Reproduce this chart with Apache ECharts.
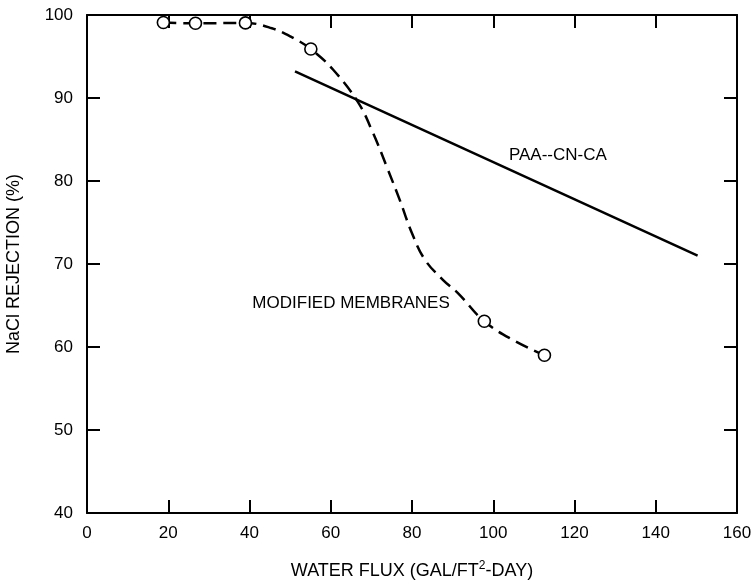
<!DOCTYPE html>
<html>
<head>
<meta charset="utf-8">
<script src="https://cdn.jsdelivr.net/npm/echarts@6/dist/echarts.min.js"></script>
<style>html,body{margin:0;padding:0;background:#fff}#c{width:755px;height:586px}</style>
</head>
<body>
<div id="c"></div>
<script>
// Measured membrane data points (water flux, NaCl rejection %)
const modifiedPoints = [[18.8, 99.1], [26.7, 99.0], [39.0, 99.05], [55.1, 95.9], [97.8, 63.1], [112.6, 59.0]];
// Dashed trend curve
const modifiedCurve = [[18.8, 99.1], [26.7, 99.0], [39.0, 99.05], [45.5, 98.4], [50.5, 97.3], [55.1, 95.9],
  [60.6, 93.4], [66.7, 89.5], [70.4, 85.8], [73.8, 81.7], [77.0, 77.7], [80.0, 73.7], [83.2, 70.5],
  [87.6, 68.1], [91.3, 66.5], [97.8, 63.1], [105.0, 60.8], [112.6, 59.0]];
// PAA--CN-CA straight line
const paaLine = [[51.2, 93.2], [150.3, 71.0]];
const xTicks = [0, 20, 40, 60, 80, 100, 120, 140, 160];
const yTicks = [40, 50, 60, 70, 80, 90, 100];
const labelTexts = ['MODIFIED MEMBRANES', 'PAA--CN-CA'];

const FONT = 'Liberation Sans';
const chart = echarts.init(document.getElementById('c'));
const axisLine = () => ({show: true, onZero: false, lineStyle: {color: '#000', width: 2}});
const tick = () => ({show: true, inside: true, length: 13, lineStyle: {color: '#000', width: 2}});
chart.setOption({
  backgroundColor: '#fff',
  animation: false,
  grid: {left: 87, right: 18, top: 15, bottom: 73, containLabel: false, outerBoundsMode: 'none'},
  xAxis: [{
    type: 'value', min: xTicks[0], max: xTicks[xTicks.length - 1], interval: 20,
    axisLine: axisLine(), axisTick: tick(), splitLine: {show: false},
    axisLabel: {margin: 12, color: '#000', fontFamily: FONT, fontSize: 17},
    name: 'WATER FLUX (GAL/FT{sup|2}-DAY)', nameLocation: 'middle', nameGap: 47,
    nameTextStyle: {color: '#000', fontFamily: FONT, fontSize: 18,
      rich: {sup: {fontSize: 12, verticalAlign: 'top', padding: [0, 0, 10, 0], color: '#000', fontFamily: FONT}}}
  }, {
    type: 'value', position: 'top', min: xTicks[0], max: xTicks[xTicks.length - 1], interval: 20,
    axisLine: axisLine(), axisTick: tick(), axisLabel: {show: false}, splitLine: {show: false}
  }],
  yAxis: [{
    type: 'value', min: yTicks[0], max: yTicks[yTicks.length - 1], interval: 10,
    axisLine: axisLine(), axisTick: tick(), splitLine: {show: false},
    axisLabel: {margin: 14, color: '#000', fontFamily: FONT, fontSize: 17},
    name: 'NaCl REJECTION (%)', nameLocation: 'middle', nameGap: 64,
    nameTextStyle: {color: '#000', fontFamily: FONT, fontSize: 18}
  }, {
    type: 'value', position: 'right', min: yTicks[0], max: yTicks[yTicks.length - 1], interval: 10,
    axisLine: axisLine(), axisTick: tick(), axisLabel: {show: false}, splitLine: {show: false}
  }],
  series: [{
    type: 'line', data: modifiedCurve, smooth: 0.4, showSymbol: false, symbol: 'none',
    lineStyle: {color: '#000', width: 2.5, type: [13, 7]}, z: 2
  }, {
    type: 'line', data: paaLine, showSymbol: false, symbol: 'none',
    lineStyle: {color: '#000', width: 2.5}, z: 2
  }, {
    type: 'scatter', data: modifiedPoints, symbol: 'circle', symbolSize: 12,
    itemStyle: {color: '#fff', borderColor: '#000', borderWidth: 1.6, opacity: 1}, z: 5
  }, {
    type: 'scatter', symbolSize: 1, silent: true,
    itemStyle: {color: 'rgba(0,0,0,0)'},
    data: [{value: [65, 65.3], name: labelTexts[0]}, {value: [115.9, 83.1], name: labelTexts[1]}],
    label: {show: true, position: 'inside', formatter: p => p.name, color: '#000', opacity: 1,
      fontFamily: FONT, fontSize: 17}
  }]
});
</script>
</body>
</html>
